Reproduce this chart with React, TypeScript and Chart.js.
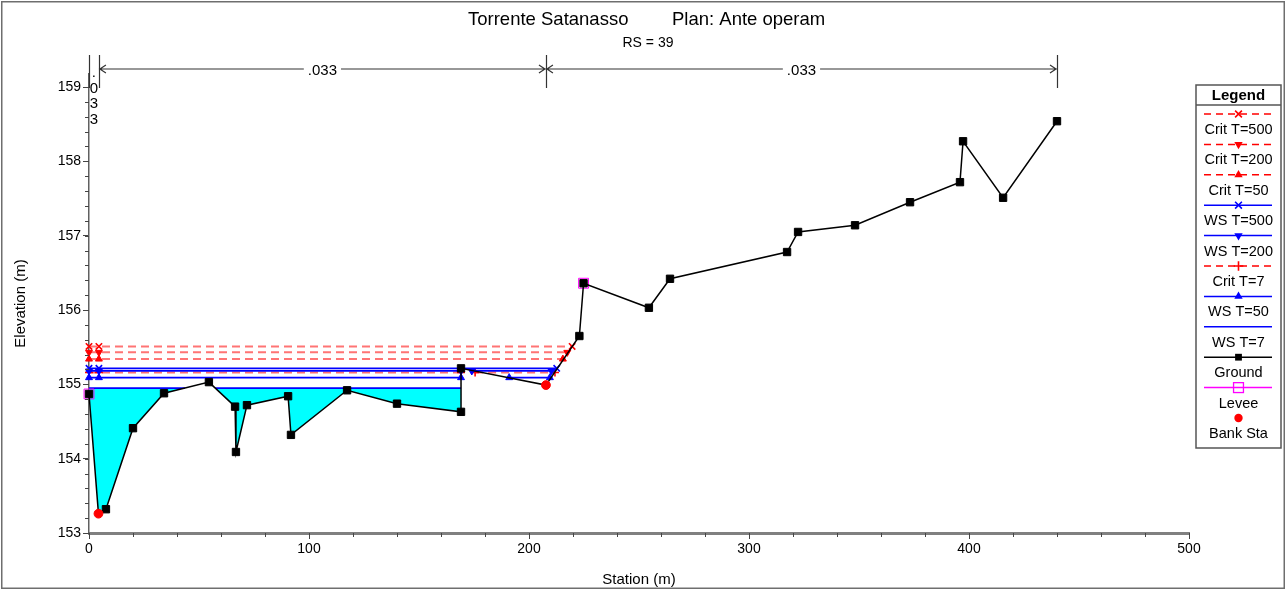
import React, { useEffect, useRef } from "react";
import { Chart, registerables } from "chart.js";

Chart.register(...registerables);

const FONT = "'Liberation Sans', Arial, Helvetica, sans-serif";

const titleLeft = "Torrente Satanasso";
const titleRight = "Plan: Ante operam";
const subtitle = "RS = 39";
const xAxisTitle = "Station (m)";
const yAxisTitle = "Elevation (m)";

const xTickValues = [0, 100, 200, 300, 400, 500];
const yTickValues = [153, 154, 155, 156, 157, 158, 159];
const xMinorStep = 20;
const yMinorStep = 0.2;

const groundStation = [0, 4.3, 7.7, 20, 34.1, 54.5, 66.4, 66.8, 71.8, 90.5, 91.8, 117.3, 140, 169.1, 169.1, 207.7, 222.9, 224.8, 254.5, 264.1, 317.3, 322.3, 348.2, 373.2, 395.9, 397.3, 415.5, 440];
const groundElev = [154.87, 153.26, 153.32, 154.41, 154.88, 155.03, 154.7, 154.09, 154.72, 154.84, 154.32, 154.92, 154.74, 154.63, 155.215, 154.99, 155.65, 156.36, 156.03, 156.42, 156.78, 157.05, 157.14, 157.45, 157.72, 158.27, 157.51, 158.54];

const leveeStation = [0, 224.8];
const leveeElev = [154.87, 156.36];

const bankStation = [4.3, 207.7];
const bankElev = [153.26, 154.99];

const critT500Station = [0, 4.5, 219.6];
const critT500Elev = [155.51, 155.51, 155.51];
const critT200Station = [0, 4.5, 217.4];
const critT200Elev = [155.43, 155.43, 155.43];
const critT50Station = [0, 4.5, 215.4];
const critT50Elev = [155.34, 155.34, 155.34];
const critT7Station = [0, 4.5, 169.1, 172, 175.5, 211.8];
const critT7Elev = [155.16, 155.16, 155.16, null, 155.16, 155.16];
const wsT500Station = [0, 4.5, 212.6];
const wsT500Elev = [155.215, 155.215, 155.215];
const wsT200Station = [0, 4.5, 169.1, 171, 174, 210.2];
const wsT200Elev = [155.18, 155.18, 155.18, null, 155.18, 155.18];
const wsT50Station = [0, 4.5, 169.1, 180, 191, 209.5];
const wsT50Elev = [155.09, 155.09, 155.09, null, 155.09, 155.09];
const wsT7Station = [0, 43.6, 50, 57.4, 169.1];
const wsT7Elev = [154.95, 154.95, null, 154.95, 154.95];

const manningBreaks = [0, 4.5, 207.7, 440];
const manningValues = [".033", ".033", ".033"];

type Style = {
  line: string | null;
  marker: string;
  dash: number[];
  width: number;
  kind: string | null;
  rot: number;
  r: number;
};

const S: Record<string, Style> = {
  critT500: { line: "#ff7474", marker: "#ff0000", dash: [8, 5], width: 2, kind: "crossRot", rot: 0, r: 4.5 },
  critT200: { line: "#ff7474", marker: "#ff0000", dash: [8, 5], width: 2, kind: "triangle", rot: 180, r: 4 },
  critT50: { line: "#ff7474", marker: "#ff0000", dash: [8, 5], width: 2, kind: "triangle", rot: 0, r: 4 },
  wsT500: { line: "#0000ff", marker: "#0000ff", dash: [], width: 1.8, kind: "crossRot", rot: 0, r: 4.5 },
  wsT200: { line: "#0000ff", marker: "#0000ff", dash: [], width: 1.8, kind: "triangle", rot: 180, r: 4 },
  critT7: { line: "#ff7474", marker: "#ff0000", dash: [8, 5], width: 2, kind: "cross", rot: 0, r: 4 },
  wsT50: { line: "#0000ff", marker: "#0000ff", dash: [], width: 1.8, kind: "triangle", rot: 0, r: 4 },
  wsT7: { line: "#0000ff", marker: "#0000ff", dash: [], width: 1.8, kind: null, rot: 0, r: 0 },
  ground: { line: "#000000", marker: "#000000", dash: [], width: 1.5, kind: "rect", rot: 0, r: 5.2 },
  levee: { line: "#ff00ff", marker: "#ff00ff", dash: [], width: 1.5, kind: "rectOpen", rot: 0, r: 7 },
  bank: { line: null, marker: "#ff0000", dash: [], width: 0, kind: "circle", rot: 0, r: 4.4 },
};

const legendItems: [string, string][] = [
  ["Crit T=500", "critT500"],
  ["Crit T=200", "critT200"],
  ["Crit T=50", "critT50"],
  ["WS T=500", "wsT500"],
  ["WS T=200", "wsT200"],
  ["Crit T=7", "critT7"],
  ["WS T=50", "wsT50"],
  ["WS T=7", "wsT7"],
  ["Ground", "ground"],
  ["Levee", "levee"],
  ["Bank Sta", "bank"],
];

const pts = (xs: number[], ys: (number | null)[]) => xs.map((x, i) => ({ x, y: ys[i] }));

function lineDataset(label: string, xs: number[], ys: (number | null)[], st: Style) {
  return {
    label,
    data: pts(xs, ys),
    borderColor: st.line || "rgba(0,0,0,0)",
    borderWidth: st.line ? st.width : 0,
    borderDash: st.dash,
    showLine: !!st.line,
    pointStyle: st.kind === "rectOpen" ? "rect" : st.kind || "circle",
    pointRotation: st.rot,
    pointRadius: st.kind ? st.r : 0,
    pointHoverRadius: st.kind ? st.r : 0,
    pointBackgroundColor: st.kind === "rectOpen" ? "rgba(0,0,0,0)" : st.marker,
    pointBorderColor: st.marker,
    pointBorderWidth: st.kind === "crossRot" || st.kind === "cross" ? 1.6 : 1,
    fill: false,
    tension: 0,
    clip: false,
    spanGaps: false,
  };
}

function drawMarker(ctx: CanvasRenderingContext2D, st: Style, x: number, y: number, r: number) {
  if (!st.kind) return;
  ctx.save();
  ctx.fillStyle = st.marker;
  ctx.strokeStyle = st.marker;
  ctx.setLineDash([]);
  ctx.lineWidth = 1.6;
  ctx.beginPath();
  if (st.kind === "crossRot") {
    const o = r * Math.SQRT1_2;
    ctx.moveTo(x - o, y - o); ctx.lineTo(x + o, y + o);
    ctx.moveTo(x - o, y + o); ctx.lineTo(x + o, y - o);
    ctx.stroke();
  } else if (st.kind === "cross") {
    ctx.moveTo(x - r, y); ctx.lineTo(x + r, y);
    ctx.moveTo(x, y - r); ctx.lineTo(x, y + r);
    ctx.stroke();
  } else if (st.kind === "triangle") {
    const d = st.rot === 180 ? -1 : 1;
    ctx.moveTo(x, y - d * r);
    ctx.lineTo(x + r * 0.866, y + d * r * 0.5);
    ctx.lineTo(x - r * 0.866, y + d * r * 0.5);
    ctx.closePath();
    ctx.fill();
  } else if (st.kind === "rect") {
    const s = r * Math.SQRT1_2;
    ctx.fillRect(x - s, y - s, 2 * s, 2 * s);
  } else if (st.kind === "rectOpen") {
    const s = r * Math.SQRT1_2;
    ctx.lineWidth = 1.3;
    ctx.strokeRect(x - s, y - s, 2 * s, 2 * s);
  } else if (st.kind === "circle") {
    ctx.arc(x, y, r, 0, Math.PI * 2);
    ctx.fill();
  }
  ctx.restore();
}

const overlayPlugin = {
  id: "overlay",
  beforeDraw(chart: any) {
    const ctx = chart.ctx as CanvasRenderingContext2D;
    ctx.save();
    ctx.fillStyle = "#ffffff";
    ctx.fillRect(0, 0, chart.width, chart.height);
    ctx.restore();
  },
  afterDraw(chart: any) {
    const ctx = chart.ctx as CanvasRenderingContext2D;
    const xs = chart.scales.x;
    const ys = chart.scales.y;
    const area = chart.chartArea;
    ctx.save();

    // minor ticks
    ctx.strokeStyle = "#444";
    ctx.lineWidth = 1;
    ctx.beginPath();
    for (let v = yTickValues[0]; v <= yTickValues[yTickValues.length - 1] + 1e-6; v += yMinorStep) {
      const p = Math.round(ys.getPixelForValue(v)) + 0.5;
      ctx.moveTo(area.left - 4, p);
      ctx.lineTo(area.left, p);
    }
    for (let v = xTickValues[0]; v <= xTickValues[xTickValues.length - 1] + 1e-6; v += xMinorStep) {
      const p = Math.round(xs.getPixelForValue(v)) + 0.5;
      ctx.moveTo(p, area.bottom);
      ctx.lineTo(p, area.bottom + 4);
    }
    ctx.stroke();

    // frame
    ctx.strokeStyle = "#6e6e6e";
    ctx.lineWidth = 1.5;
    ctx.strokeRect(1.75, 1.75, chart.width - 3.5, chart.height - 3.5);

    // titles
    ctx.fillStyle = "#000";
    ctx.textBaseline = "middle";
    ctx.textAlign = "left";
    ctx.font = `18.5px ${FONT}`;
    ctx.fillText(titleLeft, 468, 20);
    ctx.fillText(titleRight, 672, 20);
    ctx.textAlign = "center";
    ctx.font = `14px ${FONT}`;
    ctx.fillText(subtitle, 648, 43);

    // Manning's n
    const yA = 69;
    const px = manningBreaks.map((s) => xs.getPixelForValue(s));
    ctx.strokeStyle = "#333";
    ctx.lineWidth = 1.2;
    ctx.beginPath();
    px.forEach((p) => {
      ctx.moveTo(Math.round(p) + 0.5, 55);
      ctx.lineTo(Math.round(p) + 0.5, 88);
    });
    ctx.stroke();
    ctx.font = `15px ${FONT}`;
    for (let i = 0; i < manningValues.length; i++) {
      const a = px[i];
      const b = px[i + 1];
      const txt = manningValues[i];
      const mid = (a + b) / 2;
      if (b - a < 40) {
        ctx.textAlign = "center";
        ctx.textBaseline = "alphabetic";
        const chars = txt.split("");
        chars.forEach((c, k) => ctx.fillText(c, mid, 77 + k * 15.5));
        continue;
      }
      const w = ctx.measureText(txt).width;
      ctx.beginPath();
      ctx.moveTo(a, yA);
      ctx.lineTo(mid - w / 2 - 4, yA);
      ctx.moveTo(mid + w / 2 + 4, yA);
      ctx.lineTo(b, yA);
      ctx.moveTo(a + 7, yA - 4);
      ctx.lineTo(a + 1, yA);
      ctx.lineTo(a + 7, yA + 4);
      ctx.moveTo(b - 7, yA - 4);
      ctx.lineTo(b - 1, yA);
      ctx.lineTo(b - 7, yA + 4);
      ctx.stroke();
      ctx.textAlign = "center";
      ctx.textBaseline = "middle";
      ctx.fillText(txt, mid, yA + 2);
    }

    // legend
    const L = 1196, T = 85, R = 1281, B = 448;
    ctx.fillStyle = "#fff";
    ctx.fillRect(L, T, R - L, B - T);
    ctx.strokeStyle = "#555";
    ctx.lineWidth = 1.5;
    ctx.strokeRect(L, T, R - L, B - T);
    ctx.beginPath();
    ctx.moveTo(L, 105);
    ctx.lineTo(R, 105);
    ctx.stroke();
    ctx.fillStyle = "#000";
    ctx.textAlign = "center";
    ctx.textBaseline = "middle";
    ctx.font = `bold 15px ${FONT}`;
    ctx.fillText("Legend", (L + R) / 2, 95.5);
    const cx = (L + R) / 2;
    legendItems.forEach(([label, key], i) => {
      const st = S[key];
      const ly = 114 + i * 30.4;
      if (st.line) {
        ctx.save();
        ctx.strokeStyle = st.marker;
        ctx.lineWidth = 1.5;
        ctx.setLineDash(st.dash.length ? [7, 5] : []);
        ctx.beginPath();
        ctx.moveTo(1204, ly);
        ctx.lineTo(1272, ly);
        ctx.stroke();
        ctx.restore();
      }
      drawMarker(ctx, st, cx, ly, key === "levee" ? 7 : key === "bank" ? 4.2 : 4.8);
      ctx.fillStyle = "#000";
      ctx.font = `14.5px ${FONT}`;
      ctx.fillText(label, cx, ly + 16);
    });

    ctx.restore();
  },
};

export default function App() {
  const ref = useRef<HTMLCanvasElement | null>(null);

  useEffect(() => {
    document.body.style.margin = "0";
    const canvas = ref.current;
    if (!canvas) return;
    Chart.defaults.font.family = FONT;

    const datasets: any[] = [
      lineDataset("Bank Sta", bankStation, bankElev, S.bank),
      {
        ...lineDataset("Ground", groundStation, groundElev, S.ground),
        pointRadius: groundStation.map((x, i) =>
          bankStation.some((b, j) => b === x && bankElev[j] === groundElev[i]) ? 0 : S.ground.r
        ),
      },
      lineDataset("Levee", leveeStation, leveeElev, { ...S.levee, line: null }),
      lineDataset("WS T=500", wsT500Station, wsT500Elev, S.wsT500),
      lineDataset("WS T=200", wsT200Station, wsT200Elev, S.wsT200),
      lineDataset("WS T=50", wsT50Station, wsT50Elev, S.wsT50),
      lineDataset("WS T=7", wsT7Station, wsT7Elev, S.wsT7),
      lineDataset("Crit T=7", critT7Station, critT7Elev, S.critT7),
      lineDataset("Crit T=500", critT500Station, critT500Elev, S.critT500),
      lineDataset("Crit T=200", critT200Station, critT200Elev, S.critT200),
      lineDataset("Crit T=50", critT50Station, critT50Elev, S.critT50),
      {
        label: "WS T=7 area",
        data: [
          { x: wsT7Station[0], y: wsT7Elev[0] },
          { x: wsT7Station[wsT7Station.length - 1], y: wsT7Elev[wsT7Elev.length - 1] },
        ],
        borderWidth: 0,
        borderColor: "rgba(0,0,0,0)",
        pointRadius: 0,
        backgroundColor: "#00ffff",
        fill: { target: 1, above: "#00ffff", below: "rgba(0,0,0,0)" },
        clip: false,
        tension: 0,
      },
    ];

    const chart = new Chart(canvas, {
      type: "line",
      data: { datasets },
      plugins: [overlayPlugin],
      options: {
        responsive: false,
        maintainAspectRatio: false,
        animation: false,
        events: [],
        layout: { padding: { left: 0, right: 97, top: 74, bottom: 0 } },
        plugins: {
          legend: { display: false },
          tooltip: { enabled: false },
          title: { display: false },
        },
        scales: {
          x: {
            type: "linear",
            min: 0,
            max: 500,
            afterBuildTicks: (s: any) => {
              s.ticks = xTickValues.map((v) => ({ value: v }));
            },
            afterFit: (s: any) => {
              s.height = 57;
            },
            grid: { display: true, drawOnChartArea: false, drawTicks: true, tickLength: 6, color: "#444", lineWidth: 1 },
            border: { display: true, color: "#808080", width: 3 },
            ticks: { color: "#000", font: { size: 14, family: FONT }, padding: 2, maxRotation: 0, autoSkip: false },
            title: { display: true, text: xAxisTitle, color: "#000", font: { size: 15, family: FONT }, padding: { top: 4, bottom: 1 } },
          },
          y: {
            type: "linear",
            min: 153,
            max: 159.175,
            afterBuildTicks: (s: any) => {
              s.ticks = yTickValues.map((v) => ({ value: v }));
            },
            afterFit: (s: any) => {
              s.width = 89;
            },
            grid: { display: true, drawOnChartArea: false, drawTicks: true, tickLength: 6, color: "#444", lineWidth: 1 },
            border: { display: true, color: "#606060", width: 1.5 },
            ticks: { color: "#000", font: { size: 14, family: FONT }, padding: 2, autoSkip: false },
            title: { display: true, text: yAxisTitle, color: "#000", font: { size: 15, family: FONT }, padding: { top: 12, bottom: 0 } },
          },
        },
      },
    });
    return () => chart.destroy();
  }, []);

  return (
    <div style={{ position: "absolute", left: 0, top: 0, width: 1286, height: 590 }}>
      <canvas ref={ref} width={1286} height={590} style={{ display: "block", width: 1286, height: 590 }} />
    </div>
  );
}
